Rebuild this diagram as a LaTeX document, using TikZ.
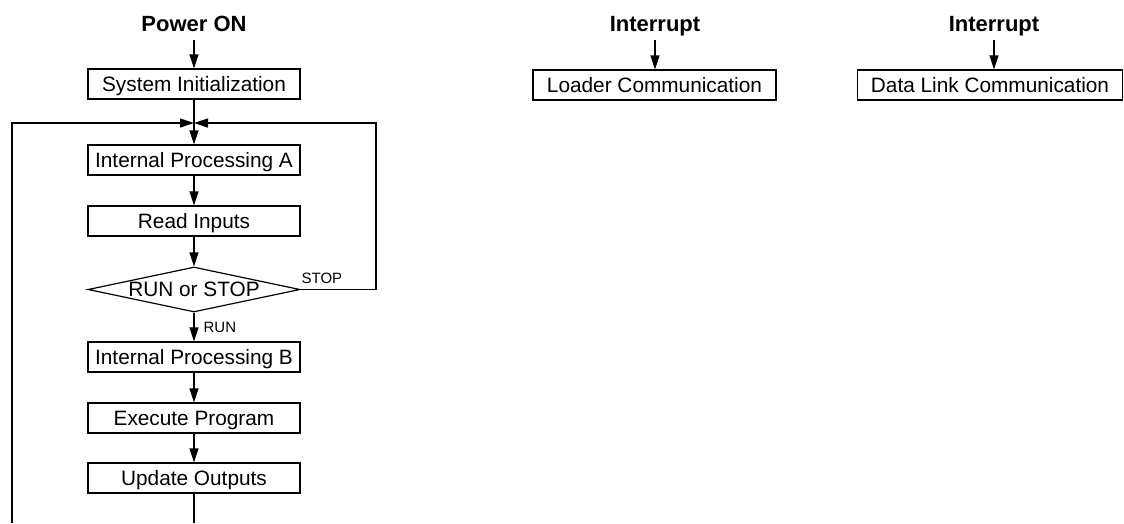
\documentclass[tikz,border=0pt]{standalone}
\usepackage{fontspec}
\setmainfont{Liberation Sans}
\usetikzlibrary{arrows.meta,shapes.geometric}
\begin{document}
\begin{tikzpicture}[x=1pt,y=-1pt,
  line width=1.2pt,
  box/.style={draw,line width=1.2pt,minimum height=30pt,inner sep=0pt,text height=14.9pt,text depth=0pt,font=\fontsize{20.8}{24}\selectfont},
  mainbox/.style={box,minimum width=212pt},
  dia/.style={draw,shape=diamond,line width=1.2pt,minimum width=212pt,minimum height=45pt,inner sep=0pt,text height=14.9pt,text depth=0pt,font=\fontsize{20.8}{24}\selectfont},
  head/.style={font=\bfseries\fontsize{22}{26}\selectfont,anchor=base,inner sep=0pt},
  lbl/.style={font=\fontsize{15}{18}\selectfont,anchor=base west,inner sep=0pt},
  arr/.style={-{Triangle[length=14pt,width=9pt]}},
  ln/.style={line width=1.2pt}
]
\path[use as bounding box,fill=white] (0,0) rectangle (1124,523);

% main flow
\node[head] (pw) at (194,31) {Power ON};
\coordinate (pwa) at (194,40);
\node[mainbox] (si) at (194,84) {System Initialization};
\coordinate (j) at (194,123);
\node[mainbox] (ipa) at (194,160) {Internal Processing A};
\node[mainbox] (ri) at (194,221) {Read Inputs};
\node[dia] (dec) at (194,289.5) {\makebox[0pt]{RUN or STOP}};
\node[mainbox] (ipb) at (194,357) {Internal Processing B};
\node[mainbox] (ex) at (194,418) {Execute Program};
\node[mainbox] (uo) at (194,478) {Update Outputs};
\coordinate (bc) at (194,523);
\coordinate (bl) at (12,523);
\coordinate (tl) at (12,123);
\coordinate (tr) at (376,123);
\coordinate (mr) at (376,289.5);

\node[lbl] (stop) at (301,283) {STOP};
\node[lbl] (run) at (203,332) {RUN};

\draw[arr] (pwa) -- (si.north);
\draw[arr] (si.south) -- (ipa.north);
\draw[arr] (ipa.south) -- (ri.north);
\draw[arr] (ri.south) -- (dec.north);
\draw[arr] (dec.south) -- (ipb.north);
\draw[arr] (ipb.south) -- (ex.north);
\draw[arr] (ex.south) -- (uo.north);
\draw[ln] (uo.south) -- (bc);
\draw[arr] (bl) -- (tl) -- (j);
\draw[arr] (dec.east) -- (mr) -- (tr) -- (j);

% interrupts
\node[head] (int1) at (655,31) {Interrupt};
\coordinate (i1a) at (655,40);
\node[box,minimum width=243pt] (lc) at (654.5,85) {Loader Communication};
\draw[arr] (i1a) -- (lc.north -| i1a);

\node[head] (int2) at (994,31) {Interrupt};
\coordinate (i2a) at (994,40);
\node[box,minimum width=265pt] (dl) at (990,85) {Data Link Communication};
\draw[arr] (i2a) -- (dl.north -| i2a);
\end{tikzpicture}
\end{document}
